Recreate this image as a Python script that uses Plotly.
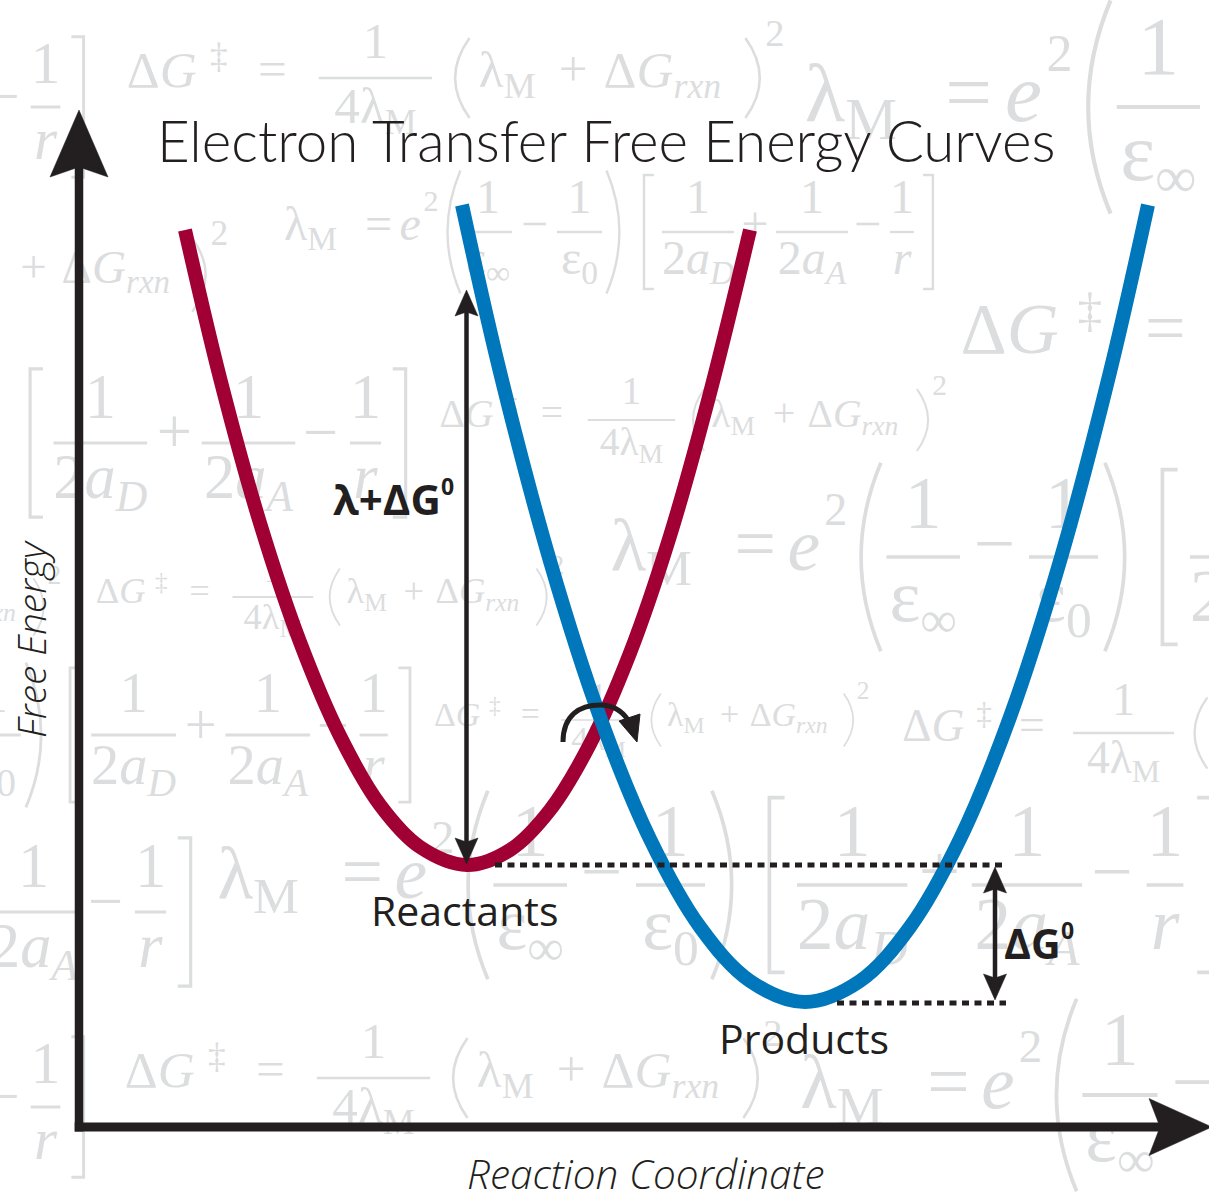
import plotly.graph_objects as go

W, H = 1209, 1192
X0, Y0 = 79, 1127          # pixel position of the axes origin (corner of the arrows)

# ---------------- data (free-energy units on a px-like scale) ----
reactant_x = [106, 141, 181, 221, 261, 301, 341, 388, 431, 471, 511, 551, 591, 631, 671]
reactant_G = [897, 749, 604, 485, 391, 322, 280, 262, 277, 317, 383, 474, 591, 734, 897]
product_x = [383, 421, 471, 521, 571, 621, 671, 726, 781, 831, 881, 931, 981, 1031, 1069]
product_G = [922, 755, 566, 410, 288, 200, 146, 125, 146, 200, 288, 410, 566, 755, 922]

reactant_min = (388, 261)      # "Reactants" minimum
product_min = (726, 124)       # "Products" minimum
lambda_top_G = 837             # top of the lambda + dG0 arrow
crossing = (521, 422)          # intersection of the two curves

labels = {"title": "Electron Transfer Free Energy Curves",
          "yaxis": "Free Energy", "xaxis": "Reaction Coordinate",
          "react": "Reactants", "prod": "Products"}

RED = "#A00034"
BLUE = "#0077BB"
INK = "#231F20"
WM = "#DCDDDE"


def dx(px):
    return px - X0


def dy(py):
    return Y0 - py


fig = go.Figure()
shapes = []
annotations = []

# ---------------- faint background formulas (watermark) ----------------
wt_x, wt_y, wt_t, wt_s, wt_p = [], [], [], [], []


def wtext(px, py, s, size, pos="middle right"):
    reach = 4 * size if pos == "middle right" else 1.5 * size
    if px + reach < 0 or px - 1.5 * size > W or py + size < 0 or py - size > H:
        return  # entirely outside the picture
    wt_x.append(dx(px)); wt_y.append(dy(py)); wt_t.append(s); wt_s.append(size); wt_p.append(pos)


def wline(x1, x2, py, w):
    if x2 < 0 or x1 > W:
        return
    shapes.append(dict(type="line", xref="x", yref="y", x0=dx(x1), x1=dx(x2), y0=dy(py), y1=dy(py),
                       line=dict(color=WM, width=w), layer="below"))


def wparen(px, pmid, half, w, lw, side):
    if px + 2 * w < 0 or px - w > W:
        return
    t, b = dy(pmid - half), dy(pmid + half)
    m = dy(pmid)
    if side == "L":
        p = f"M {dx(px + w)} {t} Q {dx(px - w)} {m} {dx(px + w)} {b}"
    else:
        p = f"M {dx(px)} {t} Q {dx(px + 2 * w)} {m} {dx(px)} {b}"
    shapes.append(dict(type="path", xref="x", yref="y", path=p, line=dict(color=WM, width=lw), layer="below"))


def wbracket(px, pmid, half, w, lw, side):
    if px + w < 0 or px > W:
        return
    t, b = dy(pmid - half), dy(pmid + half)
    if side == "L":
        p = f"M {dx(px + w)} {t} L {dx(px)} {t} L {dx(px)} {b} L {dx(px + w)} {b}"
    else:
        p = f"M {dx(px)} {t} L {dx(px + w)} {t} L {dx(px + w)} {b} L {dx(px)} {b}"
    shapes.append(dict(type="path", xref="x", yref="y", path=p, line=dict(color=WM, width=lw), layer="below"))


def frac(x0, yl, c, a, b, num, den):
    wline(x0 + a * c, x0 + b * c, yl, max(1.5, 0.08 * c))
    xc = x0 + (a + b) / 2 * c
    wtext(xc, yl - 1.04 * c, num, 1.6 * c, "middle center")
    wtext(xc, yl + 1.0 * c, den, 1.6 * c, "middle center")


def F1(x0, yl, c):
    def t(ox, oy, s, sf=1.6, pos="middle right"):
        wtext(x0 + ox * c, yl + oy * c, s, sf * c, pos)
    t(-0.1, -0.125, "Δ<i>G</i>")
    t(2.5, -0.6, "‡", 1.1)
    t(4.0, -0.15, "=")
    frac(x0, yl, c, 5.9, 9.44, "1", "4λ<sub>M</sub>")
    wparen(x0 + 10.16 * c, yl, 1.25 * c, 0.45 * c, max(1.5, 0.08 * c), "L")
    t(10.9, -0.125, "λ<sub>M</sub>")
    t(13.4, -0.15, "+")
    t(14.8, -0.125, "Δ<i>G</i><sub><i>rxn</i></sub>")
    wparen(x0 + 19.23 * c, yl, 1.25 * c, 0.45 * c, max(1.5, 0.08 * c), "R")
    t(19.85, -1.3, "2", 1.2)


def F2(x0, yl, c):
    def t(ox, oy, s, sf=1.6, pos="middle right"):
        wtext(x0 + ox * c, yl + oy * c, s, sf * c, pos)
    lw = max(1.5, 0.08 * c)
    t(-0.1, -0.125, "λ<sub>M</sub>")
    t(2.6, -0.15, "=")
    t(3.75, -0.125, "<i>e</i>")
    t(4.55, -0.95, "2", 1.0)
    wparen(x0 + 5.35 * c, yl, 2.05 * c, 0.43 * c, lw, "L")
    frac(x0, yl, c, 5.9, 7.5, "1", "ε<sub>∞</sub>")
    t(8.25, -0.15, "−", pos="middle center")
    frac(x0, yl, c, 9.0, 10.5, "1", "ε<sub>0</sub>")
    wparen(x0 + 10.65 * c, yl, 2.05 * c, 0.43 * c, lw, "R")
    wbracket(x0 + 11.9 * c, yl, 1.9 * c, 0.33 * c, lw, "L")
    frac(x0, yl, c, 12.5, 14.9, "1", "2<i>a</i><sub><i>D</i></sub>")
    t(15.6, -0.15, "+", pos="middle center")
    frac(x0, yl, c, 16.3, 18.7, "1", "2<i>a</i><sub><i>A</i></sub>")
    t(19.35, -0.15, "−", pos="middle center")
    frac(x0, yl, c, 20.1, 20.9, "1", "<i>r</i>")
    wbracket(x0 + 21.2 * c, yl, 1.9 * c, 0.33 * c, lw, "R")


for args in [(130, 78, 32), (128, 1078, 32), (442, 420, 24.7), (98, 597, 22.8),
             (436, 720, 21.2), (905, 733, 28.5), (965, 341, 45), (-375, 275, 29.5),
             (-409, 607, 23)]:
    F1(*args)
for args in [(810, 107, 52), (287, 232, 30), (615, 557, 46), (222, 885, 46),
             (-434, 443, 39), (-350, 735, 35.3), (-649, 912, 39), (805, 1095, 47),
             (-713, 1107, 37), (-713, 107, 37)]:
    F2(*args)

fig.add_trace(go.Scatter(x=wt_x, y=wt_y, text=wt_t, mode="text", textposition=wt_p,
                         textfont=dict(family="Liberation Serif, Times New Roman, serif",
                                       size=wt_s, color=WM),
                         hoverinfo="skip", showlegend=False, cliponaxis=True))

# ---------------- free energy curves ----------------
fig.add_trace(go.Scatter(x=reactant_x, y=reactant_G, mode="lines", showlegend=False, hoverinfo="skip",
                         line=dict(color=RED, width=14, shape="spline", smoothing=1.0)))
fig.add_trace(go.Scatter(x=product_x, y=product_G, mode="lines", showlegend=False, hoverinfo="skip",
                         line=dict(color=BLUE, width=14, shape="spline", smoothing=1.0)))


# ---------------- arrows, axes, dotted lines ----------------
def head(tipx, tipy, direction, length, width, notch):
    """Filled stealth arrowhead in data coordinates. direction: 'up','down','right'."""
    if direction == "up":
        pts = [(tipx, tipy), (tipx - width / 2, tipy - length), (tipx, tipy - length + notch),
               (tipx + width / 2, tipy - length)]
    elif direction == "down":
        pts = [(tipx, tipy), (tipx - width / 2, tipy + length), (tipx, tipy + length - notch),
               (tipx + width / 2, tipy + length)]
    else:
        pts = [(tipx, tipy), (tipx - length, tipy + width / 2), (tipx - length + notch, tipy),
               (tipx - length, tipy - width / 2)]
    p = "M " + " L ".join(f"{a} {b}" for a, b in pts) + " Z"
    shapes.append(dict(type="path", xref="x", yref="y", path=p, fillcolor=INK,
                       line=dict(color=INK, width=0.5), layer="above"))


def seg(x0, y0, x1, y1, w, dash="solid"):
    shapes.append(dict(type="line", xref="x", yref="y", x0=x0, y0=y0, x1=x1, y1=y1,
                       line=dict(color=INK, width=w, dash=dash), layer="above"))


# axes
y_tip, x_tip = dy(110), dx(1212)
seg(0, -4.5, 0, y_tip - 55, 8.5)
head(0, y_tip, "up", 67, 58, 10)
seg(-4.3, 0, x_tip - 52, 0, 9)
head(x_tip, 0, "right", 63, 57, 11)

# lambda + dG0 arrow
lx = reactant_min[0] - 0.5
seg(lx, reactant_min[1] + 20, lx, lambda_top_G - 20, 4.5)
head(lx, lambda_top_G, "up", 26, 23, 4)
head(lx, reactant_min[1] + 2, "down", 26, 23, 4)

# dotted levels
right_end = dx(1006)
seg(reactant_min[0] + 28, reactant_min[1] + 1, right_end, reactant_min[1] + 1, 5, "7px,5.5px")
seg(product_min[0] + 32, product_min[1], right_end, product_min[1], 5, "7px,5.5px")

# dG0 arrow
gx = dx(995)
seg(gx, product_min[1] + 20, gx, reactant_min[1] - 20, 4.5)
head(gx, reactant_min[1] - 1, "up", 26, 23, 4)
head(gx, product_min[1] + 3, "down", 26, 23, 4)

# curved arrow at the crossing
cx, cy = crossing
arc = (f"M {cx - 37} {cy - 37} C {cx - 37} {cy - 10} {cx - 20} {cy} {cx} {cy} "
       f"C {cx + 13} {cy} {cx + 22} {cy - 6} {cx + 28} {cy - 15}")
shapes.append(dict(type="path", xref="x", yref="y", path=arc, line=dict(color=INK, width=5), layer="above"))
tri = f"M {cx + 37} {cy - 37} L {cx + 19} {cy - 16} L {cx + 40} {cy - 9} Z"
shapes.append(dict(type="path", xref="x", yref="y", path=tri, fillcolor=INK,
                   line=dict(color=INK, width=1), layer="above"))


# ---------------- texts ----------------
def label(px, py, text, size, family="Open Sans", xanchor="center", weight="normal",
          style="normal", angle=0):
    annotations.append(dict(x=dx(px), y=dy(py), xref="x", yref="y", text=text, showarrow=False,
                            xanchor=xanchor, yanchor="middle", textangle=angle,
                            font=dict(family=family, size=size, color=INK, weight=weight, style=style)))


label(606, 139.5, labels["title"], 56.5, family="Lato, Open Sans, sans-serif", weight=300)
label(30, 639, labels["yaxis"], 39, style="italic", weight=300, angle=-90)
label(645, 1173, labels["xaxis"], 40.5, style="italic", weight=300)
label(464, 909.5, labels["react"], 41)
label(804, 1038, labels["prod"], 41)
label(443, 498, "λ+ΔG", 42, xanchor="right", weight="bold")
label(439, 486, "0", 23, xanchor="left", weight="bold")
label(1063, 942.5, "ΔG", 41, xanchor="right", weight="bold")
label(1059, 930, "0", 23, xanchor="left", weight="bold")

fig.update_layout(
    width=W, height=H, margin=dict(l=0, r=0, t=0, b=0),
    paper_bgcolor="white", plot_bgcolor="white",
    xaxis=dict(range=[-X0, W - X0], visible=False, showgrid=False, zeroline=False, domain=[0, 1]),
    yaxis=dict(range=[Y0 - H, Y0], visible=False, showgrid=False, zeroline=False, domain=[0, 1]),
    shapes=shapes, annotations=annotations, showlegend=False, hovermode=False,
)

fig.write_html("out.html", config={"displayModeBar": False, "staticPlot": True},
               post_script="document.body.style.margin='0';document.body.style.overflow='hidden';")
